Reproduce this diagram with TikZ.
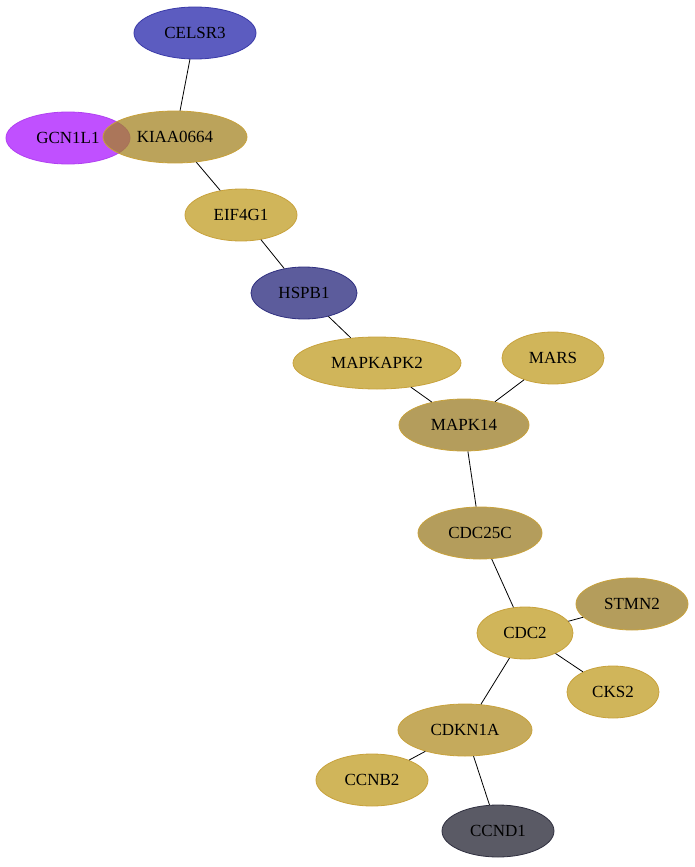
\documentclass[tikz,border=0pt]{standalone}
\usepackage{fontspec}
\setmainfont{Liberation Serif}
\usetikzlibrary{shapes.geometric}
\definecolor{goldfill}{RGB}{208,181,90}
\definecolor{goldline}{RGB}{200,162,60}
\definecolor{tanfill}{RGB}{180,157,92}
\definecolor{ochrefill}{RGB}{197,170,92}
\definecolor{kiaafill}{RGB}{164,132,36}
\definecolor{celsrfill}{RGB}{92,92,192}
\definecolor{celsrline}{RGB}{58,58,168}
\definecolor{gcnfill}{RGB}{192,80,255}
\definecolor{gcnline}{RGB}{176,64,240}
\definecolor{hspbfill}{RGB}{92,92,156}
\definecolor{hspbline}{RGB}{48,48,128}
\definecolor{ccndfill}{RGB}{90,90,101}
\definecolor{ccndline}{RGB}{48,48,64}
\tikzset{
  prot/.style={ellipse,draw=goldline,fill=goldfill,line width=0.8pt,
    minimum height=52pt,inner sep=0pt,font=\fontsize{17}{20}\selectfont},
  link/.style={black,line width=0.8pt}
}
\begin{document}
\begin{tikzpicture}[x=1pt,y=-1pt]
			\useasboundingbox (0,0) rectangle (695,867);
			\node(gcn) [prot,fill=gcnfill,draw=gcnline,minimum width=124pt] at (68,138) {GCN1L1};
			\node(kiaa) [prot,fill=kiaafill,fill opacity=0.75,text opacity=1,minimum width=144pt] at (175,137) {KIAA0664};
			\node(celsr) [prot,fill=celsrfill,draw=celsrline,minimum width=122pt] at (195,33) {CELSR3};
			\node(eif) [prot,minimum width=112pt] at (241,215) {EIF4G1};
			\node(hspb) [prot,fill=hspbfill,draw=hspbline,minimum width=106pt] at (304,293) {HSPB1};
			\node(mapkapk) [prot,minimum width=168pt] at (377,363) {MAPKAPK2};
			\node(mars) [prot,minimum width=102pt] at (553,358) {MARS};
			\node(mapk) [prot,fill=tanfill,minimum width=130pt] at (464,425) {MAPK14};
			\node(cdcc) [prot,fill=tanfill,minimum width=124pt] at (480,533) {CDC25C};
			\node(stmn) [prot,fill=tanfill,minimum width=112pt] at (632,604) {STMN2};
			\node(cdc) [prot,minimum width=96pt] at (525,633) {CDC2};
			\node(cks) [prot,minimum width=92pt] at (613,692) {CKS2};
			\node(cdkn) [prot,fill=ochrefill,minimum width=134pt] at (465,730) {CDKN1A};
			\node(ccnb) [prot,minimum width=112pt] at (372,780) {CCNB2};
			\node(ccnd) [prot,fill=ccndfill,draw=ccndline,minimum width=112pt] at (498,831) {CCND1};

			\draw[link](celsr) -- (kiaa);
			\draw[link](kiaa) -- (eif);
			\draw[link](eif) -- (hspb);
			\draw[link](hspb) -- (mapkapk);
			\draw[link](mapkapk) -- (mapk);
			\draw[link](mars) -- (mapk);
			\draw[link](mapk) -- (cdcc);
			\draw[link](cdcc) -- (cdc);
			\draw[link](cdc) -- (stmn);
			\draw[link](cdc) -- (cks);
			\draw[link](cdc) -- (cdkn);
			\draw[link](cdkn) -- (ccnb);
			\draw[link](cdkn) -- (ccnd);
		\end{tikzpicture}
\end{document}
